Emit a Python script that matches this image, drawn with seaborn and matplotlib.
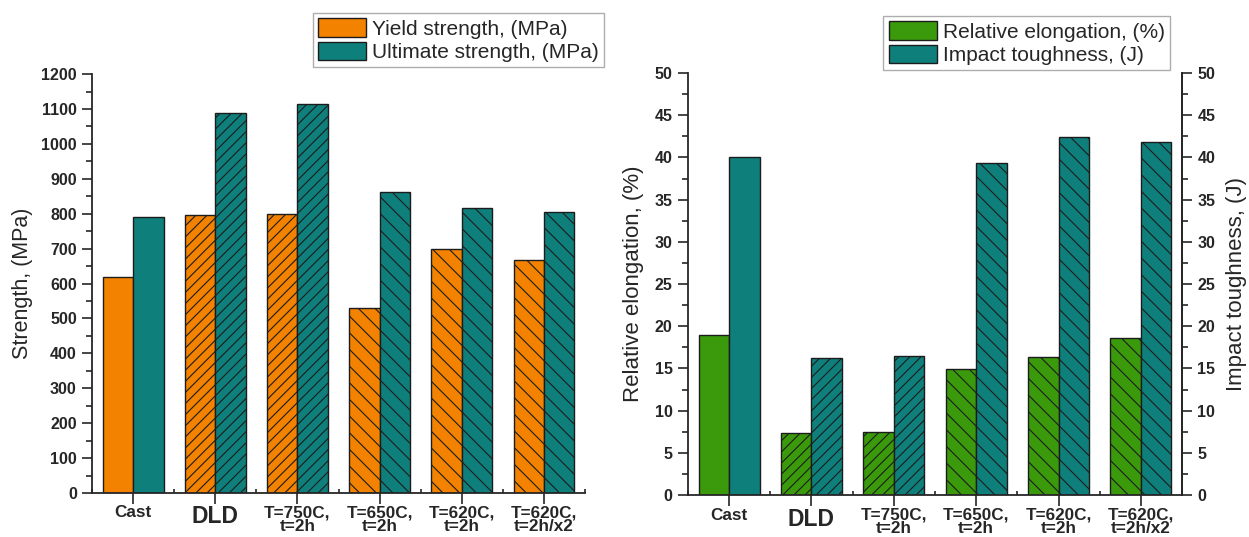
import matplotlib
matplotlib.use("Agg")
import matplotlib.pyplot as plt
import numpy as np
import pandas as pd
import seaborn as sns
from matplotlib.ticker import MultipleLocator

conditions = ["Cast", "DLD", "T=750C,\nt=2h", "T=650C,\nt=2h", "T=620C,\nt=2h", "T=620C,\nt=2h/x2"]
yield_strength = [620, 795, 798, 530, 698, 667]
ultimate_strength = [790, 1088, 1115, 863, 817, 805]
elongation = [19.0, 7.3, 7.5, 14.9, 16.4, 18.6]
impact = [40.0, 16.2, 16.5, 39.4, 42.4, 41.8]
hatches = ["", "///", "///", "\\\\", "\\\\", "\\\\"]

orange = "#F28200"
teal = "#0F7F7C"
green = "#3A9A0C"
edge = "#1c1c1c"

sns.set_style("ticks")
plt.rcParams["font.family"] = ["Liberation Sans", "DejaVu Sans"]
plt.rcParams["hatch.linewidth"] = 0.8

strength = pd.DataFrame({
    "cond": conditions * 2,
    "value": yield_strength + ultimate_strength,
    "series": ["Yield strength, (MPa)"] * 6 + ["Ultimate strength, (MPa)"] * 6,
})
ductility = pd.DataFrame({
    "cond": conditions * 2,
    "value": elongation + impact,
    "series": ["Relative elongation, (%)"] * 6 + ["Impact toughness, (J)"] * 6,
})

fig = plt.figure(figsize=(12.49, 5.37), dpi=100)
ax1 = fig.add_axes([0.0737, 0.082, 0.3947, 0.780])
ax2 = fig.add_axes([0.5508, 0.078, 0.3956, 0.786])


def draw(ax, data, colors, ymax, major, minor):
    sns.barplot(data=data, x="cond", y="value", hue="series", palette=colors,
                width=0.74, gap=0, edgecolor=edge, linewidth=1.0, saturation=1,
                legend=False, ax=ax)
    for cont in ax.containers:
        for bar, h in zip(cont, hatches):
            bar.set_hatch(h)
    ax.set_xlim(-0.5, 5.5)
    ax.set_ylim(0, ymax)
    ax.yaxis.set_major_locator(MultipleLocator(major))
    ax.yaxis.set_minor_locator(MultipleLocator(minor))
    ax.xaxis.set_minor_locator(MultipleLocator(1, offset=0.5))
    ax.tick_params(axis="y", which="major", length=7, width=1.2, labelsize=11.5, pad=4)
    ax.tick_params(axis="y", which="minor", length=4, width=1.2)
    ax.tick_params(axis="x", which="major", length=8, width=1.2, labelsize=12.3, pad=1)
    ax.tick_params(axis="x", which="minor", length=3, width=1.2, direction="in")
    for lab in ax.get_yticklabels():
        lab.set_fontweight("bold")
    for lab in ax.get_xticklabels():
        lab.set_fontweight("bold")
        lab.set_linespacing(0.88)
        if lab.get_text() == "DLD":
            lab.set_fontsize(16.5)
    ax.set_xlabel("")
    for s in ax.spines.values():
        s.set_linewidth(1.3)
    ax.spines["top"].set_visible(False)
    ax.spines["right"].set_visible(False)
    leg = ax.legend(ax.containers, list(data["series"].unique()),
                    fontsize=15, handlelength=2.3, handleheight=1.0,
                    handletextpad=0.3, labelspacing=0.15, borderpad=0.25,
                    frameon=True, fancybox=False, edgecolor="#999999",
                    loc="upper right", borderaxespad=0)
    leg.get_frame().set_linewidth(1.0)
    return leg


leg1 = draw(ax1, strength, [orange, teal], 1200, 100, 50)
ax1.set_ylabel("Strength, (MPa)", fontsize=15.5, labelpad=6)
leg1.set_bbox_to_anchor((604 / 1249, 1 - 13 / 537), transform=fig.transFigure)

leg2 = draw(ax2, ductility, [green, teal], 50, 5, 2.5)
ax2.set_ylabel("Relative elongation, (%)", fontsize=16, labelpad=8)
leg2.set_bbox_to_anchor((1170 / 1249, 1 - 16 / 537), transform=fig.transFigure)
ax2.spines["right"].set_visible(True)

ax3 = ax2.twinx()
ax3.set_ylim(ax2.get_ylim())
ax3.yaxis.set_major_locator(MultipleLocator(5))
ax3.yaxis.set_minor_locator(MultipleLocator(2.5))
ax3.tick_params(axis="y", which="major", length=7, width=1.2, labelsize=11.5, pad=4)
ax3.tick_params(axis="y", which="minor", length=4, width=1.2)
for lab in ax3.get_yticklabels():
    lab.set_fontweight("bold")
for s in ax3.spines.values():
    s.set_visible(False)
ax3.spines["right"].set_visible(True)
ax3.spines["right"].set_linewidth(1.3)
ax3.set_ylabel("Impact toughness, (J)", fontsize=16, labelpad=8)

fig.savefig("out.png", dpi=100)
